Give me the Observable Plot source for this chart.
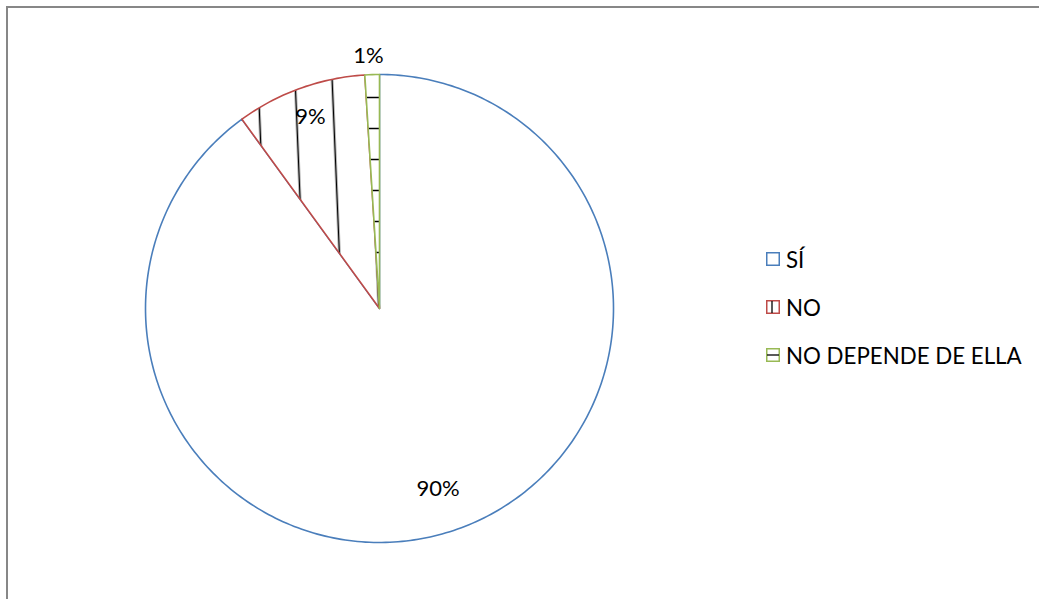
<!DOCTYPE html>
<html><head><meta charset="utf-8">
<script src="https://cdn.jsdelivr.net/npm/d3@7"></script>
<script src="https://cdn.jsdelivr.net/npm/@observablehq/plot@0.6"></script>
<style>
body{margin:0;background:#fff;}
#wrap{position:relative;width:1039px;height:599px;overflow:hidden;font-family:Lato, "Open Sans", sans-serif;color:#000;}
#chart{position:absolute;left:0;top:0;}
#frame{position:absolute;left:6px;top:6px;width:1200px;height:800px;border-top:2px solid #878787;border-left:2px solid #878787;}
#legend{position:absolute;left:766px;top:235px;}
.item{display:flex;align-items:center;height:48px;font-size:22.3px;}
.item svg{margin-right:6px;}
</style></head><body>
<div id="wrap"><div id="chart"></div><div id="frame"></div><div id="legend"></div></div>
<script>
// ---- data ----
const categories = ["SÍ", "NO", "NO DEPENDE DE ELLA"];
const values = [90, 9, 1];
// ---- styles ----
const strokeColors = ["#4A7EBB", "#BE4B48", "#98B954"];
const fills = ["#ffffff", "url(#hatchV)", "url(#hatchH)"];

const data = categories.map((c, i) => ({category: c, value: values[i], index: i}));
const total = d3.sum(values);
const arcs = d3.pie().sort(null).value(d => d.value)(data);

const slices = arcs.map(a => {
  const n = Math.max(2, Math.ceil((a.endAngle - a.startAngle) / (2 * Math.PI) * 360));
  const pts = [{x: 0, y: 0}];
  for (let k = 0; k <= n; k++) {
    const t = a.startAngle + (a.endAngle - a.startAngle) * k / n;
    pts.push({x: Math.sin(t), y: Math.cos(t)});
  }
  return pts;
});

const labels = arcs.map(a => {
  const share = a.data.value / total;
  const mid = (a.startAngle + a.endAngle) / 2;
  const k = share < 0.05 ? 1.08 : share > 0.5 ? 0.81 : 0.87;
  const t = share < 0.05 ? mid - 0.012 : mid;
  return {x: Math.sin(t) * k, y: Math.cos(t) * k, text: d3.format(".0%")(share)};
});

const plot = Plot.plot({
  width: 1039, height: 599,
  marginLeft: 145, marginRight: 426, marginTop: 74, marginBottom: 57,
  x: {domain: [-1, 1], axis: null},
  y: {domain: [-1, 1], axis: null},
  style: {background: "transparent", fontFamily: "Lato, 'Open Sans', sans-serif", color: "#000"},
  marks: [
    ...slices.map((pts, i) => Plot.line(pts, {
      x: "x", y: "y", curve: "linear-closed",
      fill: fills[i], stroke: strokeColors[i], strokeWidth: 1.6
    })),
    Plot.text(labels, {x: "x", y: "y", text: "text", fontSize: 22, fill: "#000"})
  ]
});

const ns = "http://www.w3.org/2000/svg";
const defs = document.createElementNS(ns, "defs");
defs.innerHTML = `
<pattern id="hatchV" patternUnits="userSpaceOnUse" width="37" height="40" x="13.5" patternTransform="rotate(-2.4)">
  <rect width="37" height="40" fill="#fff"/>
  <line x1="18.5" y1="-1" x2="18.5" y2="41" stroke="#000" stroke-width="1.6"/>
</pattern>
<pattern id="hatchH" patternUnits="userSpaceOnUse" width="40" height="31" y="81.5">
  <rect width="40" height="31" fill="#fff"/>
  <line x1="-1" y1="15.5" x2="41" y2="15.5" stroke="#000" stroke-width="1.6"/>
</pattern>`;
plot.insertBefore(defs, plot.firstChild);
document.getElementById("chart").appendChild(plot);

// legend
const legend = d3.select("#legend");
categories.forEach((c, i) => {
  const item = legend.append("div").attr("class", "item");
  const s = item.append("svg").attr("width", 14).attr("height", 14);
  s.append("rect").attr("x", 0.75).attr("y", 0.75).attr("width", 12.5).attr("height", 12.5)
    .attr("fill", "#fff").attr("stroke", strokeColors[i]).attr("stroke-width", 1.5);
  if (i === 1) s.append("line").attr("x1", 6).attr("x2", 6).attr("y1", 1).attr("y2", 13).attr("stroke", "#000").attr("stroke-width", 1.3);
  if (i === 2) s.append("line").attr("x1", 1).attr("x2", 13).attr("y1", 7).attr("y2", 7).attr("stroke", "#000").attr("stroke-width", 1.3);
  item.append("span").text(c);
});
</script>
</body></html>
